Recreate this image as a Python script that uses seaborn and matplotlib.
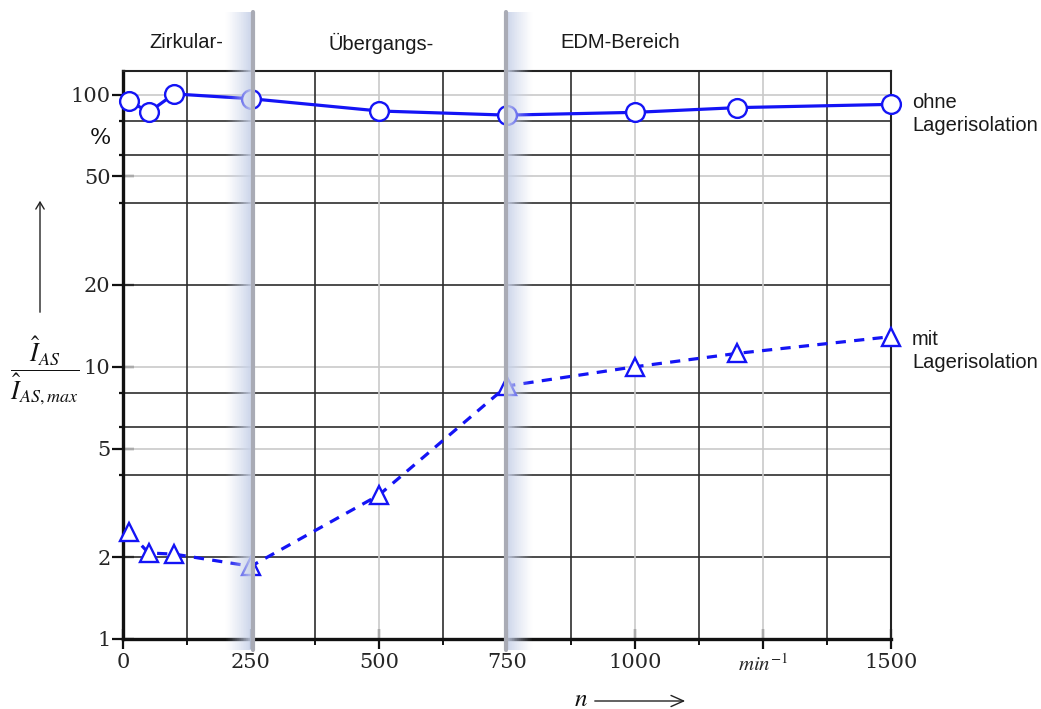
import numpy as np
import pandas as pd
import matplotlib
matplotlib.use("Agg")
import matplotlib.pyplot as plt
import seaborn as sns

# ---------------- data ----------------
drehzahl = [12, 50, 100, 250, 500, 750, 1000, 1200, 1500]
ohne_isolation = [95, 86, 100.5, 96.5, 87, 84, 86, 89.5, 92]
mit_isolation = [2.47, 2.07, 2.05, 1.85, 3.38, 8.5, 10.0, 11.2, 12.9]

x_tick_values = [0, 250, 500, 750, 1000, 1250, 1500]
x_tick_labels = ["0", "250", "500", "750", "1000", r"$min^{-1}$", "1500"]
y_tick_values = [1, 2, 5, 10, 20, 50, 100]
y_tick_labels = ["1", "2", "5", "10", "20", "50", "100"]
y_minor_values = [4, 6, 8, 40, 60, 80]
x_minor_values = [125, 375, 625, 875, 1125, 1375]

grid_black_y = [2, 4, 6, 8, 20, 40, 60, 80]
grid_gray_y = [5, 10, 50, 100]
grid_black_x = [125, 375, 625, 875, 1125, 1375]
grid_gray_x = [500, 1000, 1250]
band_positions = [250, 750]
region_labels = ["Zirkular-", "Übergangs-", "EDM-Bereich"]

# ---------------- style ----------------
sns.set_theme(style="white")
plt.rcParams["font.family"] = ["DejaVu Serif"]
plt.rcParams["mathtext.fontset"] = "stix"

W, H = 1041, 709
fig = plt.figure(figsize=(W / 100, H / 100), dpi=100)
ax_l, ax_r, ax_t, ax_b = 123, 891, 71, 639
ax = fig.add_axes([ax_l / W, 1 - ax_b / H, (ax_r - ax_l) / W, (ax_b - ax_t) / H])
ax.set_facecolor("white")

BLUE = "#1414f5"

df_ohne = pd.DataFrame({"n": drehzahl, "v": ohne_isolation})
df_mit = pd.DataFrame({"n": drehzahl, "v": mit_isolation})

sns.lineplot(data=df_ohne, x="n", y="v", ax=ax, sort=False, color=BLUE,
             lw=2.3, marker="o", markersize=13.5, markerfacecolor="white",
             markeredgecolor=BLUE, markeredgewidth=1.7, zorder=4, clip_on=False)
sns.lineplot(data=df_mit, x="n", y="v", ax=ax, sort=False, color=BLUE,
             lw=2.3, marker="^", markersize=13, markerfacecolor="white",
             markeredgecolor=BLUE, markeredgewidth=1.7, zorder=4, clip_on=False)
ax.lines[-1].set_dashes((3.2, 2.6))

ax.set_yscale("log")
ax.set_xlim(0, 1500)
ax.set_ylim(1, 122)

# grid lines
for v in grid_black_y:
    ax.axhline(v, color="#2e2e2e", lw=1.2, zorder=1)
for v in grid_gray_y:
    ax.axhline(v, color="#c9c9c9", lw=1.2, zorder=1)
for v in grid_black_x:
    ax.axvline(v, color="#2e2e2e", lw=1.2, zorder=1)
for v in grid_gray_x:
    ax.axvline(v, color="#c9c9c9", lw=1.2, zorder=1)

# spines
for s in ["left", "bottom"]:
    ax.spines[s].set_linewidth(2.4)
    ax.spines[s].set_color("#111111")
for s in ["top", "right"]:
    ax.spines[s].set_linewidth(1.5)
    ax.spines[s].set_color("#222222")
    ax.spines[s].set_visible(True)

# ticks
ax.set_xticks(x_tick_values)
ax.set_xticklabels(x_tick_labels)
ax.set_xticks(x_minor_values, minor=True)
ax.set_yticks(y_tick_values)
ax.set_yticklabels(y_tick_labels)
ax.yaxis.set_minor_locator(matplotlib.ticker.FixedLocator(y_minor_values))
ax.yaxis.set_minor_formatter(matplotlib.ticker.NullFormatter())
ax.tick_params(axis="y", which="major", direction="inout", length=16, width=1.6,
               color="#111111", labelsize=15, pad=1, left=True)
ax.tick_params(axis="y", which="minor", direction="out", length=3, width=1.6,
               color="#111111", left=True)
ax.tick_params(axis="x", which="major", direction="inout", length=14, width=1.6,
               color="#111111", labelsize=15, pad=3, bottom=True)
ax.tick_params(axis="x", which="minor", direction="out", length=4, width=1.4,
               color="#111111", bottom=True)
for lab in ax.get_xticklabels():
    if "min" in lab.get_text():
        lab.set_fontsize(15)
ax.set_xlabel("")
ax.set_ylabel("")

# shaded bands (gradient toward the dividing line)
band_color = np.array([0.78, 0.82, 0.91])
ymin_ax = (ax_b - 650) / (ax_b - ax_t)
ymax_ax = (ax_b - 12) / (ax_b - ax_t)
px_per_unit = (ax_r - ax_l) / 1500.0
band_width = 26 / px_per_unit
nsl = 40
for i, pos in enumerate(band_positions):
    direction = -1 if i == 0 else 1
    for k in range(nsl):
        a0 = k / nsl
        a1 = (k + 1) / nsl
        x0 = pos + direction * band_width * (1 - a0)
        x1 = pos + direction * band_width * (1 - a1)
        alpha = 0.9 * ((a0 + a1) / 2) ** 1.2
        ax.axvspan(min(x0, x1), max(x0, x1), ymin=ymin_ax, ymax=ymax_ax,
                   color=band_color, alpha=alpha, lw=0, clip_on=False, zorder=6)
    ax.axvline(pos + (2 / px_per_unit if i == 0 else -1 / px_per_unit),
               ymin=ymin_ax, ymax=ymax_ax, color="#a9abb5", lw=3.0,
               clip_on=False, zorder=7)

# region labels
sans = ["Liberation Sans", "DejaVu Sans"]
for lab, xc in zip(region_labels, [186, 381, 620]):
    fig.text(xc / W, 1 - 43 / H, lab, ha="center", va="center",
             fontsize=14.5, family=sans, color="#1a1a1a")

# right-side series labels
fig.text(912 / W, 1 - 114 / H, "ohne\nLagerisolation", ha="left", va="center",
         fontsize=14.5, family=sans, color="#1a1a1a", linespacing=1.3)
fig.text(912 / W, 1 - 351 / H, "mit\nLagerisolation", ha="left", va="center",
         fontsize=14.5, family=sans, color="#1a1a1a", linespacing=1.3)

# y unit and label
fig.text(100 / W, 1 - 138 / H, "%", ha="center", va="center", fontsize=16,
         color="#111111")
fig.text(45 / W, 1 - 371 / H, r"$\dfrac{\hat{I}_{AS}}{\hat{I}_{AS,max}}$",
         ha="center", va="center", fontsize=18.5, color="#111111")
fig.add_artist(matplotlib.patches.FancyArrowPatch(
    (40 / W, 1 - 315 / H), (40 / W, 1 - 198 / H), transform=fig.transFigure,
    arrowstyle="->,head_length=5,head_width=3", lw=1.0, color="#222222",
    mutation_scale=1))

# x label with arrow
fig.text(581 / W, 1 - 699 / H, r"$n$", ha="center", va="center", fontsize=18,
         color="#111111")
fig.add_artist(matplotlib.patches.FancyArrowPatch(
    (592 / W, 1 - 701 / H), (688 / W, 1 - 701 / H), transform=fig.transFigure,
    arrowstyle="->,head_length=9,head_width=4", lw=1.0, color="#222222",
    mutation_scale=1))

fig.savefig("out.png", dpi=100)
